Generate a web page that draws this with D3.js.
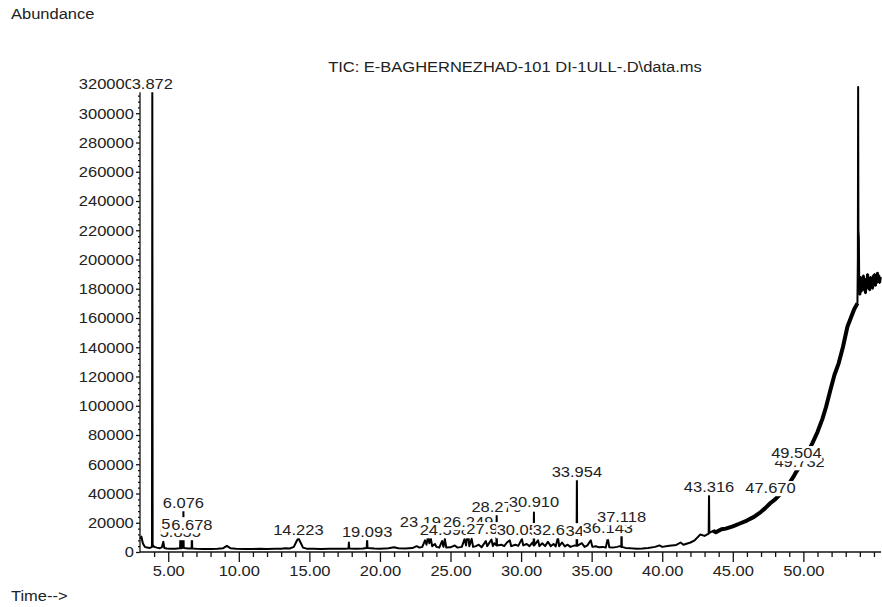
<!DOCTYPE html>
<html><head><meta charset="utf-8">
<script src="https://cdn.jsdelivr.net/npm/d3@7"></script>
<style>
body{margin:0;background:#fff}
svg{display:block}
text{font-family:"Liberation Sans",Arial,sans-serif;font-size:15px;fill:#222}
</style>
</head><body>
<svg id="c" width="882" height="607"></svg>
<script>
// ---- data: [time (min), abundance] ----
const tracePoints = [[3.02,9000],[3.1,10500],[3.2,6000],[3.35,3500],[3.5,3000],[3.7,2800],[3.85,3500],[3.872,315000],[3.895,5000],[4.0,3500],[4.2,3000],[4.4,2600],[4.55,3200],[4.65,7000],[4.72,2800],[4.9,2400],[5.2,2300],[5.5,2300],[5.8,2500],[5.84,2500],[5.855,9000],[5.875,2600],[5.945,2600],[5.962,13000],[5.98,2800],[6.06,3000],[6.076,28000],[6.095,2800],[6.13,2700],[6.4,2400],[6.66,2500],[6.678,15000],[6.70,2400],[7.0,2200],[7.5,2100],[8.0,2100],[8.5,2200],[8.9,2600],[9.15,4200],[9.4,2600],[9.8,2200],[10.5,2100],[11.0,2100],[11.5,2200],[12.0,2100],[12.6,2300],[13.0,2200],[13.3,2600],[13.6,2400],[13.9,3500],[14.1,7500],[14.223,9500],[14.35,7000],[14.55,3000],[14.8,2300],[15.3,2200],[15.8,2100],[16.4,2300],[17.0,2200],[17.5,2300],[17.77,2400],[17.8,6500],[17.83,2400],[18.3,2300],[18.8,2400],[19.06,2800],[19.093,8500],[19.12,2800],[19.6,2400],[20.0,2300],[20.6,2500],[21.0,3200],[21.3,2500],[21.8,2400],[22.3,2700],[22.6,4000],[22.8,3000],[23.0,3500],[23.192,8000],[23.3,5000],[23.4,10500],[23.5,6000],[23.6,9500],[23.7,4000],[23.9,5500],[24.0,3500],[24.2,3000],[24.4,7500],[24.5,3500],[24.598,9000],[24.7,3000],[25.0,3200],[25.3,4500],[25.5,3000],[25.8,3500],[26.0,9000],[26.1,4500],[26.249,14000],[26.33,4000],[26.5,9000],[26.6,3500],[26.8,4000],[27.0,5000],[27.2,3200],[27.5,7500],[27.6,4000],[27.902,8500],[28.0,4000],[28.1,6000],[28.25,4500],[28.27,25000],[28.29,4500],[28.6,5000],[28.8,4000],[29.0,6500],[29.2,8000],[29.3,4000],[29.6,5000],[29.8,4200],[30.058,9000],[30.15,4500],[30.4,5500],[30.6,4000],[30.8,6500],[30.89,4500],[30.91,27000],[30.93,4500],[31.2,8000],[31.3,4000],[31.5,6000],[31.7,4000],[31.9,7000],[32.1,4000],[32.3,5500],[32.45,3800],[32.613,10000],[32.7,4000],[32.9,6500],[33.1,3800],[33.3,5000],[33.5,3500],[33.8,4500],[33.93,4200],[33.954,50500],[33.975,4200],[34.3,6000],[34.5,3500],[34.7,4500],[34.937,8000],[35.05,3500],[35.3,4000],[35.5,3200],[35.8,3500],[36.0,3000],[36.143,9500],[36.25,3200],[36.5,3000],[36.8,3500],[37.0,4000],[37.1,3500],[37.118,18500],[37.14,3500],[37.4,2800],[37.8,2500],[38.2,2300],[38.6,2400],[39.0,2800],[39.5,3500],[39.8,4500],[40.0,3500],[40.5,4300],[41.0,4800],[41.3,6500],[41.5,5000],[42.0,6500],[42.3,8000],[42.5,10000],[42.7,12000],[43.0,11000],[43.29,12500],[43.316,39000],[43.34,13000],[43.6,14500],[43.8,13500],[44.2,15500],[44.5,16000],[45.0,17500],[45.5,19500],[46.0,21500],[46.5,24000],[47.0,27500],[47.3,30000],[47.67,33500],[48.0,36000],[48.4,40000],[48.7,43000],[49.0,47000],[49.3,51500],[49.504,55000],[49.732,58000],[50.0,62800],[50.3,68000],[50.64,74500],[51.0,82000],[51.35,91000],[51.6,99000],[51.92,111000],[52.2,121000],[52.5,129000],[52.8,140000],[53.12,154000],[53.4,161000],[53.6,166000],[53.83,170000],[53.86,200000],[53.88,318000],[53.9,220000],[53.93,215000],[53.96,182000],[54.0,176000],[54.05,188000],[54.1,178000],[54.15,186000],[54.2,180000],[54.25,189000],[54.3,179000],[54.35,184000],[54.4,177000],[54.45,187000],[54.5,181000],[54.55,190000],[54.6,180000],[54.65,186000],[54.7,179000],[54.75,188000],[54.8,182000],[54.85,187000],[54.9,180000],[54.95,189000],[55.0,183000],[55.05,190000],[55.1,182000],[55.15,188000],[55.2,184000],[55.25,191000],[55.3,185000],[55.35,189000],[55.4,184000],[55.45,188000]];

const peakLabels = ["3.872","5.855","5.962","6.678","6.076","14.223","19.093","23.192","24.598","26.249","27.902","30.058","28.270","30.910","32.613","34.937","33.954","36.143","37.118","43.316","47.670","49.732","49.504"];
const peakTimes  = [3.872,5.855,5.962,6.678,6.076,14.223,19.093,23.192,24.598,26.249,27.902,30.058,28.270,30.910,32.613,34.937,33.954,36.143,37.118,43.316,47.670,49.732,49.504];
const labelLevels = [320000,13700,19100,18500,33500,15000,13700,20500,15000,20500,15700,15000,30800,34200,15000,14400,54700,16400,23900,44400,43800,61500,67700];

const xMajorTicks = [5,10,15,20,25,30,35,40,45,50];
const xTickLabels = ["5.00","10.00","15.00","20.00","25.00","30.00","35.00","40.00","45.00","50.00"];
const xMinorTicks = [4,6,7,8,9,11,12,13,14,16,17,18,19,21,22,23,24,26,27,28,29,31,32,33,34,36,37,38,39,41,42,43,44,46,47,48,49,51,52,53,54,55];
const yTickValues = [0,20000,40000,60000,80000,100000,120000,140000,160000,180000,200000,220000,240000,260000,280000,300000,320000];
const titleText = "TIC: E-BAGHERNEZHAD-101 DI-1ULL-.D\\data.ms";
const yAxisTitle = "Abundance";
const xAxisTitle = "Time-->";

// ---- drawing ----
const SX = 1.1;
const svg = d3.select("#c");
const x = d3.scaleLinear().domain([3.0, 55.5]).range([140, 881]);
const y = d3.scaleLinear().domain([0, 320000]).range([552, 84]);

// y axis
const gy = svg.append("g").attr("transform","translate(140,0)")
  .call(d3.axisLeft(y).tickValues(yTickValues).tickFormat(d3.format("d")).tickSize(4).tickSizeOuter(0).tickPadding(2));
gy.selectAll("text").attr("transform",`scale(${SX},1)`).attr("x",-4/SX - 2);
const minorY = d3.range(0, 320001, 4000).filter(v => v % 20000 !== 0);
svg.append("g").attr("transform","translate(140,0)")
  .call(d3.axisLeft(y).tickValues(minorY).tickSize(2).tickSizeOuter(0).tickFormat(""))
  .select(".domain").remove();
gy.select(".domain").attr("d", `M0,${y(320000)-6}V${y(0)}`);

// x axis
const gx = svg.append("g").attr("transform","translate(0,552)")
  .call(d3.axisBottom(x).tickValues(xMajorTicks).tickFormat((d,i)=>xTickLabels[i]).tickSize(10).tickSizeOuter(0).tickPadding(3));
gx.selectAll("text").attr("transform",`scale(${SX},1)`);
svg.append("g").attr("transform","translate(0,552)")
  .call(d3.axisBottom(x).tickValues(xMinorTicks).tickSize(5).tickSizeOuter(0).tickFormat(""))
  .select(".domain").remove();
gx.select(".domain").attr("d","M140,0H881");

svg.selectAll(".domain, .tick line").attr("stroke","#111").attr("stroke-width",1.3);
svg.selectAll(".tick text").style("font-size","15px").attr("fill","#222");

// trace
const line = d3.line().x(d=>x(d[0])).y(d=>y(d[1]));
svg.append("path").attr("d", line(tracePoints)).attr("fill","none").attr("stroke","#000").attr("stroke-width",2).attr("stroke-linejoin","round");
svg.append("path").attr("d", line(tracePoints.filter(d=>d[0]>=43.5 && d[0]<=53.84))).attr("fill","none").attr("stroke","#000").attr("stroke-width",4).attr("stroke-linejoin","round");
svg.append("path").attr("d", line(tracePoints.filter(d=>d[0]>=53.95))).attr("fill","none").attr("stroke","#000").attr("stroke-width",3);

// peak labels with white backgrounds (later labels cover earlier ones)
peakLabels.forEach((lab,i)=>{
  const g = svg.append("g").attr("transform",`translate(${x(peakTimes[i])},${y(labelLevels[i])}) scale(${SX},1)`);
  const r = g.append("rect").attr("fill","#fff");
  const t = g.append("text").attr("text-anchor","middle").attr("dy","0.36em").text(lab);
  const b = t.node().getBBox();
  r.attr("x",b.x-0.5).attr("y",b.y+1).attr("width",b.width+1).attr("height",b.height-1);
});

// titles
function stretchedText(px, py, txt, anchor){
  svg.append("g").attr("transform",`translate(${px},${py}) scale(${SX},1)`)
    .append("text").attr("text-anchor",anchor).text(txt);
}
stretchedText(515, 72, titleText, "middle");
stretchedText(11, 19, yAxisTitle, "start");
stretchedText(11, 601, xAxisTitle, "start");
</script>
</body></html>
